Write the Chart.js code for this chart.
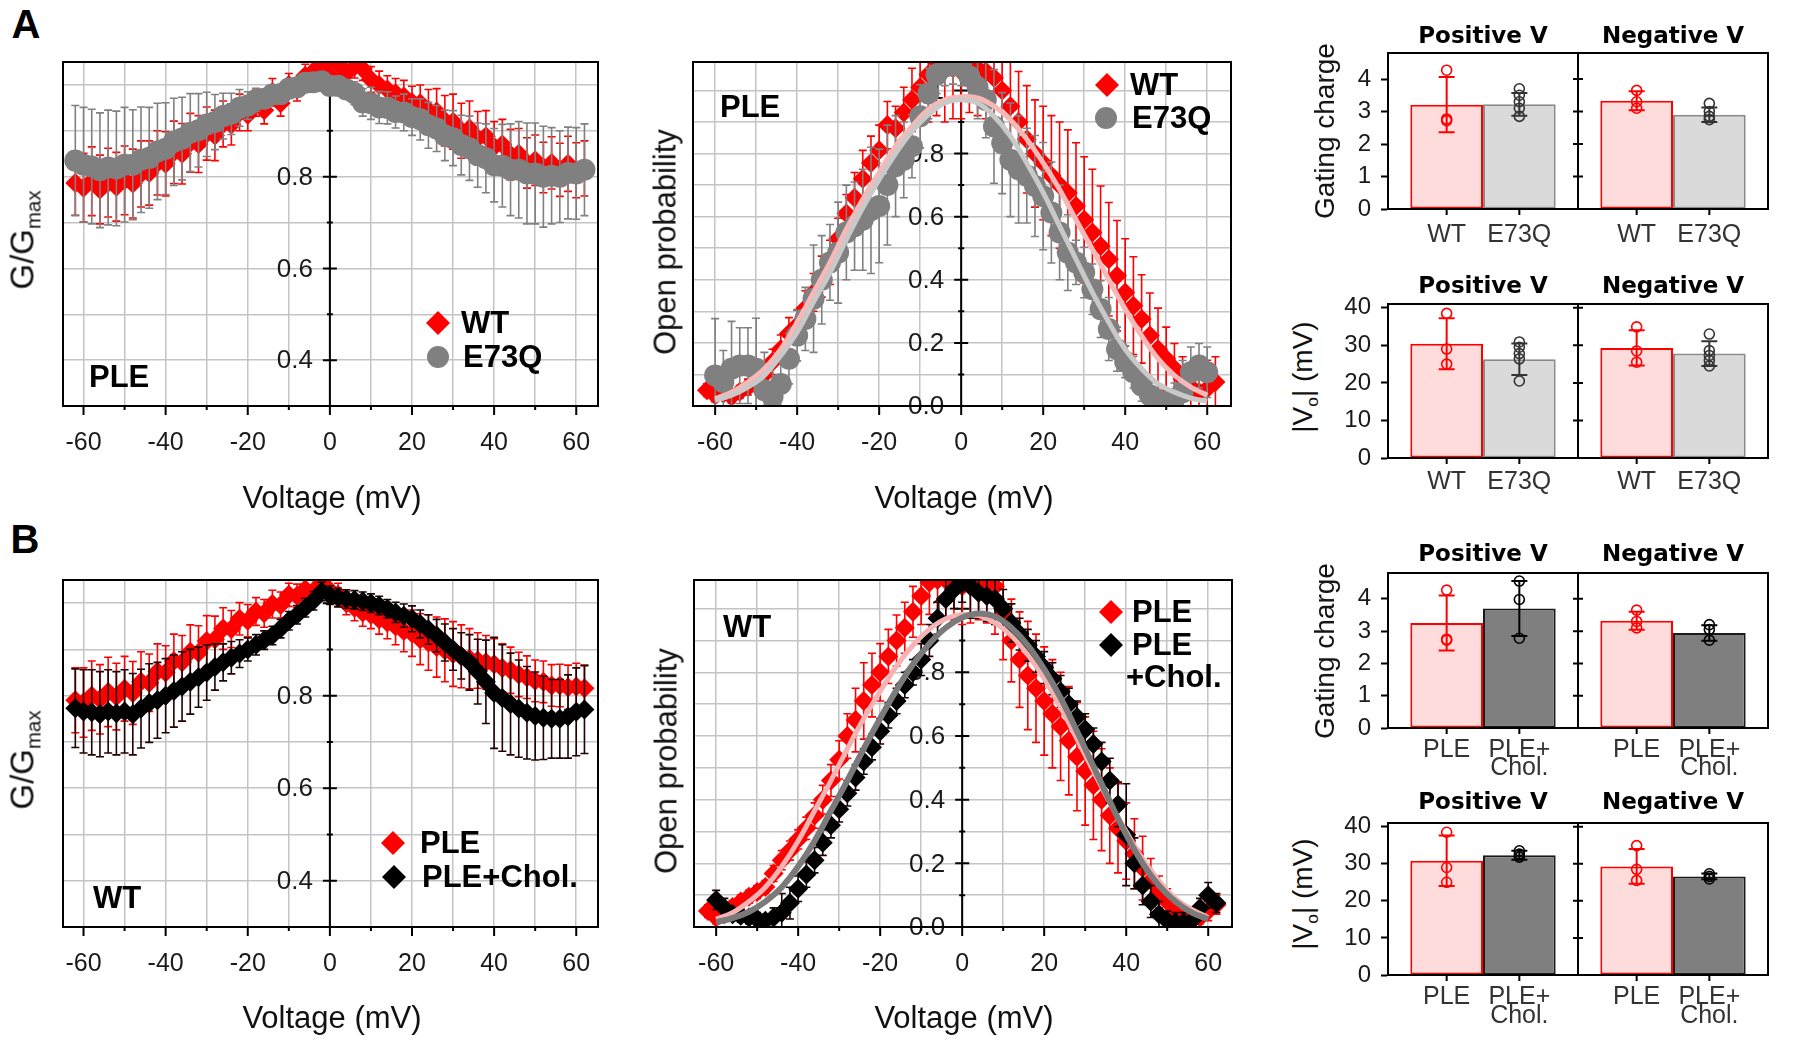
<!DOCTYPE html>
<html>
<head>
<meta charset="utf-8">
<title>Gating of WT and E73Q</title>
<script src="https://cdn.jsdelivr.net/npm/chart.js@4.4.1/dist/chart.umd.min.js"></script>
<style>
  body { margin: 0; background: #fff; }
  #fig { position: relative; width: 1810px; height: 1038px; overflow: hidden; font-family: Arial, "Liberation Sans", sans-serif; color: #111; }
  #fig canvas { position: absolute; }
  .lbl { position: absolute; transform: translate(-50%, -50%); line-height: 1; white-space: nowrap; }
  .rot { transform: translate(-50%, -50%) rotate(-90deg); }
  .sub { font-size: 0.62em; position: relative; top: 0.34em; }
  .panel { font-weight: bold; font-size: 40px; color: #000; }
  .ax { font-size: 31px; }
  .gm { font-size: 33px; }
  .ax2 { font-size: 28px; }
</style>
</head>
<body>
<div id="fig">
  <div class="lbl panel" style="left:26px;top:24px">A</div>
  <div class="lbl panel" style="left:25px;top:539px">B</div>

  <canvas id="a1" width="640" height="440" style="left:0;top:40px"></canvas>
  <canvas id="a2" width="620" height="440" style="left:650px;top:40px"></canvas>
  <canvas id="a3" width="480" height="245" style="left:1330px;top:10px"></canvas>
  <canvas id="a4" width="480" height="245" style="left:1330px;top:262px"></canvas>
  <canvas id="b1" width="640" height="443" style="left:0;top:558px"></canvas>
  <canvas id="b2" width="620" height="443" style="left:650px;top:558px"></canvas>
  <canvas id="b3" width="480" height="250" style="left:1330px;top:530px"></canvas>
  <canvas id="b4" width="480" height="258" style="left:1330px;top:780px"></canvas>

  <div class="lbl gm rot" style="left:22px;top:240px">G/G<span class="sub">max</span></div>
  <div class="lbl gm rot" style="left:22px;top:760px">G/G<span class="sub">max</span></div>
  <div class="lbl ax rot" style="left:665px;top:242px">Open probability</div>
  <div class="lbl ax rot" style="left:666px;top:761px">Open probability</div>
  <div class="lbl ax" style="left:332px;top:497px">Voltage (mV)</div>
  <div class="lbl ax" style="left:964px;top:497px">Voltage (mV)</div>
  <div class="lbl ax" style="left:332px;top:1017px">Voltage (mV)</div>
  <div class="lbl ax" style="left:964px;top:1017px">Voltage (mV)</div>
  <div class="lbl ax2 rot" style="left:1325px;top:131px">Gating charge</div>
  <div class="lbl ax2 rot" style="left:1325px;top:651px">Gating charge</div>
  <div class="lbl ax2 rot" style="left:1303px;top:377px">|V<span class="sub">o</span>| (mV)</div>
  <div class="lbl ax2 rot" style="left:1303px;top:894px">|V<span class="sub">o</span>| (mV)</div>
</div>

<script>
// ---- voltage grid (mV) ----
const voltage = [-62, -60, -58, -56, -54, -52, -50, -48, -46, -44, -42, -40, -38, -36, -34, -32, -30, -28, -26, -24,
  -22, -20, -18, -16, -14, -12, -10, -8, -6, -4, -2, 0, 2, 4, 6, 8, 10, 12, 14, 16, 18, 20, 22, 24, 26, 28, 30,
  32, 34, 36, 38, 40, 42, 44, 46, 48, 50, 52, 54, 56, 58, 60, 62];
const fitVoltage = [-60, -56, -52, -48, -44, -40, -36, -32, -28, -24, -20, -16, -12, -8, -4, 0, 4, 8, 12, 16, 20,
  24, 28, 32, 36, 40, 44, 48, 52, 56, 60];

// tick values
const voltageTicks = [-60, -50, -40, -30, -20, -10, 0, 10, 20, 30, 40, 50, 60];
const gGridTicks = [0.3, 0.4, 0.5, 0.6, 0.7, 0.8, 0.9, 1.0];
const gLabelTicks = [0.4, 0.6, 0.8, 1];
const poGridTicks = [0, 0.1, 0.2, 0.3, 0.4, 0.5, 0.6, 0.7, 0.8, 0.9, 1.0];
const poLabelTicks = [0, 0.2, 0.4, 0.6, 0.8, 1];
const chargeTicks = [0, 1, 2, 3, 4];
const vhalfTicks = [0, 10, 20, 30, 40];

// ---- A: G/Gmax, PLE ----
const gWT = [0.786, 0.776, 0.79, 0.772, 0.787, 0.778, 0.792, 0.785, 0.806, 0.808,
  0.83, 0.828, 0.853, 0.85, 0.874, 0.871, 0.894, 0.89, 0.915, 0.914,
  0.94, 0.935, 0.962, 0.945, 0.984, 0.96, 1.0, 0.99, 1.02, 1.03,
  1.042, 1.02, 1.045, 1.025, 1.04, 1.035, 1.012, 1.0, 0.99, 0.982,
  0.975, 0.962, 0.96, 0.945, 0.942, 0.922, 0.92, 0.9, 0.905, 0.884,
  0.888, 0.865, 0.87, 0.848, 0.85, 0.83, 0.836, 0.82, 0.83, 0.815,
  0.828, 0.814, 0.818];
const gWTErr = [0.07, 0.075, 0.075, 0.075, 0.075, 0.075, 0.075, 0.075, 0.072, 0.07,
  0.07, 0.07, 0.068, 0.066, 0.064, 0.062, 0.058, 0.055, 0.05, 0.045,
  0.04, 0.035, 0.03, 0.03, 0.03, 0.028, 0.025, 0.025, 0.025, 0.025,
  0.025, 0.025, 0.025, 0.025, 0.025, 0.025, 0.028, 0.03, 0.03, 0.032,
  0.035, 0.035, 0.04, 0.045, 0.05, 0.055, 0.06, 0.06, 0.06, 0.058,
  0.056, 0.055, 0.055, 0.055, 0.055, 0.055, 0.055, 0.055, 0.057, 0.058,
  0.06, 0.06, 0.06];
const gE73Q = [0.835, 0.826, 0.822, 0.814, 0.82, 0.818, 0.826, 0.826, 0.837, 0.841,
  0.855, 0.861, 0.876, 0.883, 0.896, 0.901, 0.914, 0.919, 0.932, 0.937,
  0.95, 0.955, 0.967, 0.97, 0.979, 0.98, 0.992, 0.995, 1.005, 1.006,
  1.008, 0.998, 0.998, 0.99, 0.982, 0.962, 0.96, 0.951, 0.95, 0.941,
  0.94, 0.93, 0.925, 0.912, 0.905, 0.89, 0.884, 0.869, 0.862, 0.847,
  0.84, 0.825, 0.824, 0.815, 0.815, 0.807, 0.807, 0.8, 0.802, 0.8,
  0.808, 0.807, 0.815];
const gE73QErr = [0.12, 0.125, 0.125, 0.125, 0.125, 0.125, 0.125, 0.12, 0.115, 0.11,
  0.105, 0.1, 0.095, 0.09, 0.085, 0.08, 0.07, 0.06, 0.05, 0.045,
  0.04, 0.03, 0.025, 0.02, 0.02, 0.02, 0.02, 0.02, 0.02, 0.02,
  0.02, 0.02, 0.02, 0.02, 0.025, 0.03, 0.035, 0.035, 0.035, 0.035,
  0.04, 0.04, 0.045, 0.05, 0.05, 0.055, 0.06, 0.065, 0.07, 0.07,
  0.075, 0.08, 0.09, 0.1, 0.105, 0.11, 0.11, 0.11, 0.105, 0.1,
  0.1, 0.1, 0.1];

// ---- A: open probability, PLE ----
const poWT = [0.05, 0.034, 0.04, 0.03, 0.045, 0.06, 0.075, 0.1, 0.14, 0.18,
  0.23, 0.255, 0.31, 0.36, 0.41, 0.455, 0.53, 0.61, 0.66, 0.72,
  0.77, 0.81, 0.89, 0.88, 0.93, 0.97, 1.01, 1.05, 1.09, 1.08,
  1.07, 1.06, 1.08, 1.07, 1.06, 1.04, 1.0, 0.95, 0.9, 0.845,
  0.8, 0.77, 0.73, 0.7, 0.675, 0.634, 0.59, 0.55, 0.507, 0.465,
  0.413, 0.36, 0.318, 0.276, 0.223, 0.18, 0.15, 0.118, 0.086, 0.06,
  0.044, 0.055, 0.076];
const poWTErr = [0.02, 0.02, 0.02, 0.02, 0.02, 0.025, 0.03, 0.035, 0.04, 0.045,
  0.05, 0.05, 0.055, 0.06, 0.065, 0.07, 0.065, 0.06, 0.08, 0.09,
  0.085, 0.08, 0.075, 0.07, 0.08, 0.1, 0.12, 0.15, 0.17, 0.18,
  0.16, 0.15, 0.15, 0.15, 0.15, 0.15, 0.15, 0.15, 0.16, 0.17,
  0.17, 0.18, 0.19, 0.2, 0.2, 0.2, 0.2, 0.2, 0.19, 0.18,
  0.175, 0.17, 0.155, 0.14, 0.135, 0.13, 0.1, 0.08, 0.07, 0.06,
  0.07, 0.09, 0.08];
const poE73Q = [null, 0.097, 0.076, 0.118, 0.128, 0.128, 0.118, 0.05, 0.03, 0.07,
  0.15, 0.223, 0.276, 0.34, 0.4, 0.455, 0.486, 0.55, 0.57, 0.59,
  0.62, 0.634, 0.7, 0.76, 0.78, 0.823, 0.918, 0.99, 1.05, 1.075,
  1.08, 1.075, 1.044, 1.01, 0.97, 0.886, 0.833, 0.78, 0.75, 0.73,
  0.697, 0.665, 0.613, 0.55, 0.486, 0.455, 0.423, 0.37, 0.307, 0.244,
  0.18, 0.14, 0.107, 0.065, 0.034, 0.018, 0.013, 0.023, 0.044, 0.107,
  0.128, 0.107, null];
const poE73QErr = [null, 0.18, 0.1, 0.15, 0.12, 0.12, 0.16, 0.12, 0.1, 0.08,
  0.08, 0.08, 0.1, 0.17, 0.14, 0.12, 0.16, 0.15, 0.14, 0.16,
  0.2, 0.18, 0.19, 0.16, 0.12, 0.1, 0.1, 0.08, 0.06, 0.06,
  0.06, 0.06, 0.08, 0.1, 0.12, 0.18, 0.16, 0.18, 0.17, 0.15,
  0.16, 0.17, 0.16, 0.15, 0.12, 0.07, 0.08, 0.08, 0.09, 0.1,
  0.07, 0.05, 0.05, 0.05, 0.04, 0.04, 0.04, 0.05, 0.1, 0.08,
  0.07, 0.08, null];
const fitWT = [0.023, 0.044, 0.076, 0.118, 0.18, 0.265, 0.36, 0.455, 0.56, 0.655, 0.74, 0.823, 0.886, 0.94,
  0.97, 0.98, 0.976, 0.95, 0.907, 0.845, 0.77, 0.686, 0.59, 0.497, 0.4, 0.307, 0.223, 0.15, 0.097, 0.06, 0.034];
const fitE73Q = [0.018, 0.034, 0.06, 0.097, 0.16, 0.234, 0.33, 0.423, 0.528, 0.628, 0.718, 0.8, 0.87, 0.923,
  0.96, 0.97, 0.96, 0.918, 0.855, 0.77, 0.676, 0.57, 0.465, 0.36, 0.265, 0.18, 0.118, 0.07, 0.044, 0.025, 0.015];

// ---- B: G/Gmax, WT ----
const gPLE = [0.79, 0.785, 0.8, 0.792, 0.808, 0.798, 0.815, 0.806, 0.83, 0.828,
  0.852, 0.85, 0.875, 0.872, 0.895, 0.893, 0.918, 0.922, 0.945, 0.944,
  0.966, 0.962, 0.982, 0.978, 0.998, 0.996, 1.018, 1.016, 1.03, 1.026,
  1.042, 1.028, 1.018, 1.0, 0.99, 0.98, 0.975, 0.965, 0.958, 0.95,
  0.94, 0.935, 0.922, 0.915, 0.905, 0.898, 0.89, 0.885, 0.88, 0.876,
  0.872, 0.868, 0.86, 0.855, 0.846, 0.84, 0.832, 0.83, 0.822, 0.822,
  0.818, 0.82, 0.816];
const gPLEErr = [0.07, 0.075, 0.075, 0.075, 0.075, 0.072, 0.07, 0.068, 0.065, 0.062,
  0.06, 0.058, 0.058, 0.058, 0.058, 0.058, 0.055, 0.05, 0.045, 0.04,
  0.035, 0.035, 0.03, 0.03, 0.03, 0.028, 0.025, 0.025, 0.025, 0.025,
  0.025, 0.025, 0.025, 0.025, 0.028, 0.03, 0.03, 0.032, 0.035, 0.04,
  0.045, 0.05, 0.055, 0.06, 0.065, 0.068, 0.07, 0.068, 0.065, 0.06,
  0.058, 0.055, 0.052, 0.05, 0.048, 0.046, 0.045, 0.045, 0.045, 0.046,
  0.048, 0.05, 0.05];
const gChol = [0.773, 0.766, 0.764, 0.76, 0.766, 0.762, 0.766, 0.76, 0.772, 0.784,
  0.79, 0.8, 0.81, 0.82, 0.83, 0.84, 0.85, 0.862, 0.872, 0.882,
  0.891, 0.9, 0.91, 0.92, 0.93, 0.945, 0.962, 0.975, 0.99, 1.005,
  1.025, 1.017, 1.012, 1.009, 1.007, 1.004, 1.0, 0.995, 0.988, 0.98,
  0.973, 0.966, 0.955, 0.943, 0.93, 0.915, 0.9, 0.886, 0.872, 0.852,
  0.83, 0.806, 0.795, 0.782, 0.772, 0.763, 0.756, 0.752, 0.75, 0.75,
  0.755, 0.765, 0.77];
const gCholErr = [0.085, 0.09, 0.092, 0.092, 0.09, 0.09, 0.09, 0.088, 0.085, 0.085,
  0.082, 0.08, 0.078, 0.075, 0.07, 0.065, 0.06, 0.05, 0.04, 0.035,
  0.03, 0.025, 0.022, 0.02, 0.02, 0.02, 0.02, 0.02, 0.02, 0.02,
  0.02, 0.02, 0.02, 0.02, 0.02, 0.02, 0.02, 0.02, 0.02, 0.022,
  0.025, 0.028, 0.03, 0.032, 0.035, 0.04, 0.045, 0.05, 0.06, 0.07,
  0.09, 0.12, 0.115, 0.11, 0.105, 0.1, 0.095, 0.09, 0.085, 0.085,
  0.09, 0.095, 0.095];

// ---- B: open probability, WT ----
const poPLE = [0.05, 0.03, 0.04, 0.063, 0.08, 0.095, 0.11, 0.126, 0.168, 0.21,
  0.24, 0.275, 0.31, 0.35, 0.4, 0.46, 0.525, 0.6, 0.65, 0.71,
  0.76, 0.8, 0.85, 0.9, 0.94, 0.99, 1.04, 1.082, 1.09, 1.09,
  1.085, 1.07, 1.075, 1.085, 1.085, 1.07, 0.98, 0.9, 0.84, 0.79,
  0.75, 0.71, 0.67, 0.63, 0.585, 0.535, 0.49, 0.445, 0.4, 0.35,
  0.31, 0.27, 0.23, 0.185, 0.145, 0.11, 0.08, 0.05, 0.03, 0.025,
  0.03, 0.05, 0.07];
const poPLEErr = [0.02, 0.02, 0.02, 0.02, 0.02, 0.02, 0.02, 0.02, 0.025, 0.03,
  0.03, 0.03, 0.035, 0.04, 0.045, 0.05, 0.06, 0.07, 0.1, 0.12,
  0.1, 0.09, 0.085, 0.08, 0.08, 0.08, 0.09, 0.1, 0.11, 0.12,
  0.12, 0.12, 0.12, 0.12, 0.13, 0.15, 0.14, 0.13, 0.15, 0.17,
  0.17, 0.17, 0.17, 0.17, 0.17, 0.17, 0.17, 0.17, 0.16, 0.15,
  0.14, 0.12, 0.11, 0.1, 0.07, 0.05, 0.04, 0.03, 0.02, 0.02,
  0.02, 0.03, 0.03];
const poChol = [null, 0.085, 0.06, 0.04, 0.035, 0.03, 0.025, 0.02, 0.03, 0.045,
  0.075, 0.12, 0.165, 0.21, 0.265, 0.32, 0.37, 0.42, 0.47, 0.52,
  0.565, 0.615, 0.665, 0.71, 0.76, 0.8, 0.84, 0.9, 0.97, 1.03,
  1.06, 1.08, 1.07, 1.05, 1.04, 1.03, 1.0, 0.955, 0.92, 0.885,
  0.85, 0.815, 0.78, 0.74, 0.7, 0.66, 0.62, 0.575, 0.52, 0.46,
  0.385, 0.29, 0.2, 0.13, 0.08, 0.04, 0.02, 0.015, 0.015, 0.02,
  0.06, 0.1, 0.075];
const poCholErr = [null, 0.03, 0.03, 0.02, 0.02, 0.02, 0.02, 0.02, 0.03, 0.06,
  0.05, 0.04, 0.04, 0.04, 0.04, 0.04, 0.04, 0.04, 0.04, 0.04,
  0.04, 0.04, 0.04, 0.04, 0.04, 0.04, 0.05, 0.05, 0.05, 0.06,
  0.06, 0.06, 0.1, 0.08, 0.08, 0.08, 0.06, 0.06, 0.05, 0.05,
  0.05, 0.05, 0.05, 0.05, 0.05, 0.05, 0.05, 0.05, 0.06, 0.07,
  0.07, 0.16, 0.08, 0.06, 0.05, 0.04, 0.03, 0.03, 0.03, 0.03,
  0.03, 0.04, 0.03];
const fitPLE = [0.025, 0.045, 0.08, 0.125, 0.19, 0.27, 0.365, 0.46, 0.56, 0.655, 0.74, 0.82, 0.885, 0.935,
  0.968, 0.982, 0.978, 0.955, 0.915, 0.855, 0.78, 0.69, 0.59, 0.49, 0.39, 0.3, 0.215, 0.145, 0.09, 0.055, 0.03];
const fitChol = [0.015, 0.028, 0.048, 0.08, 0.125, 0.19, 0.27, 0.365, 0.46, 0.56, 0.655, 0.745, 0.825, 0.89,
  0.94, 0.972, 0.985, 0.975, 0.94, 0.885, 0.81, 0.72, 0.615, 0.505, 0.395, 0.29, 0.2, 0.13, 0.08, 0.045, 0.025];

// ---- bar summaries: [Positive V, Negative V] ----
const groups = ['Positive V', 'Negative V'];
const chargeWT = [3.21, 3.33], chargeWTSd = [0.85, 0.29];
const chargeWTPts = [[4.27, 2.77, 2.72], [3.65, 3.3, 3.1]];
const chargeE73Q = [3.22, 2.9], chargeE73QSd = [0.35, 0.22];
const chargeE73QPts = [[3.7, 3.5, 3.3, 3.1, 2.85], [3.25, 3.0, 2.85, 2.75]];
const vhalfWT = [30.4, 29.3], vhalfWTSd = [6.8, 4.7];
const vhalfWTPts = [[38.5, 29.0, 25.0], [34.9, 28.5, 25.5]];
const vhalfE73Q = [26.3, 27.8], vhalfE73QSd = [4.2, 3.3];
const vhalfE73QPts = [[30.9, 29.5, 27.8, 26.4, 20.5], [33.0, 28.6, 27.3, 26.0, 24.5]];
const chargePLE = [3.25, 3.32], chargePLESd = [0.85, 0.28];
const chargePLEPts = [[4.27, 2.75, 2.72], [3.65, 3.3, 3.1]];
const chargeChol = [3.7, 2.94], chargeCholSd = [0.85, 0.24];
const chargeCholPts = [[4.55, 3.98, 2.78], [3.2, 3.05, 2.72]];
const vhalfPLE = [30.8, 29.3], vhalfPLESd = [6.8, 4.7];
const vhalfPLEPts = [[38.5, 29.0, 25.0], [34.9, 28.5, 25.5]];
const vhalfChol = [32.3, 26.6], vhalfCholSd = [1.2, 0.8];
const vhalfCholPts = [[33.5, 32.6, 31.8], [27.3, 26.6, 25.9]];

// ---- drawing ----
const FONT = 'Arial, "Liberation Sans", sans-serif';
const GRID = '#c4c4c4';

function xyPoints(xs, ys) {
  return xs.map((x, i) => ({ x: x, y: ys[i] }));
}

function markers(ys, err, style, color, errColor, radius, order) {
  return {
    data: xyPoints(voltage, ys), errorBars: err, errorColor: errColor,
    pointStyle: style, pointRadius: radius, pointHoverRadius: radius,
    backgroundColor: color, borderColor: color, borderWidth: 0, order: order, clip: 0
  };
}

function fitLine(ys, color, width, order) {
  return {
    data: xyPoints(fitVoltage, ys), showLine: true, tension: 0.4, pointRadius: 0,
    borderColor: color, borderWidth: width, order: order, clip: 0
  };
}

// vertical error bars, drawn just under their own markers
const errorBars = {
  id: 'errorBars',
  beforeDatasetDraw(chart, args) {
    const ds = chart.data.datasets[args.index];
    if (!ds.errorBars) return;
    const { ctx, chartArea: a, scales: { x, y } } = chart;
    ctx.save();
    ctx.beginPath();
    ctx.rect(a.left, a.top, a.right - a.left, a.bottom - a.top);
    ctx.clip();
    ctx.strokeStyle = ds.errorColor;
    ctx.lineWidth = 1.6;
    ctx.beginPath();
    ds.data.forEach((p, i) => {
      const e = ds.errorBars[i];
      if (p.y == null || e == null) return;
      const px = x.getPixelForValue(p.x);
      const top = y.getPixelForValue(p.y + e);
      const bot = y.getPixelForValue(p.y - e);
      ctx.moveTo(px, top); ctx.lineTo(px, bot);
      ctx.moveTo(px - 4, top); ctx.lineTo(px + 4, top);
      ctx.moveTo(px - 4, bot); ctx.lineTo(px + 4, bot);
    });
    ctx.stroke();
    ctx.restore();
  }
};

// y axis crossing at 0 mV, frame and bottom tick marks
function centerAxis(labels) {
  return {
    id: 'centerAxis',
    beforeDatasetsDraw(chart) {
      const { ctx, chartArea: a, scales: { x, y } } = chart;
      const x0 = x.getPixelForValue(0);
      ctx.save();
      ctx.strokeStyle = '#000';
      ctx.lineWidth = 2;
      ctx.beginPath();
      ctx.moveTo(x0, a.top);
      ctx.lineTo(x0, a.bottom);
      y.ticks.forEach(t => {
        const py = y.getPixelForValue(t.value);
        const len = labels.indexOf(t.value) >= 0 ? 7 : 3;
        ctx.moveTo(x0 - len, py);
        ctx.lineTo(x0 + len, py);
      });
      ctx.stroke();
      ctx.fillStyle = '#1a1a1a';
      ctx.font = '26px ' + FONT;
      ctx.textAlign = 'right';
      ctx.textBaseline = 'middle';
      labels.forEach(v => ctx.fillText(v === 1 ? '1' : v.toFixed(1), x0 - 17, y.getPixelForValue(v) + 1));
      ctx.restore();
    },
    afterDatasetsDraw(chart) {
      const { ctx, chartArea: a, scales: { x } } = chart;
      ctx.save();
      ctx.strokeStyle = '#000';
      ctx.lineWidth = 2;
      ctx.strokeRect(a.left, a.top, a.right - a.left, a.bottom - a.top);
      ctx.beginPath();
      x.ticks.forEach(t => {
        const px = x.getPixelForValue(t.value);
        ctx.moveTo(px, a.bottom);
        ctx.lineTo(px, a.bottom + (t.value % 20 === 0 ? 9 : 4));
      });
      ctx.stroke();
      ctx.restore();
    }
  };
}

function drawMarker(ctx, style, color, x, y, r) {
  ctx.fillStyle = color;
  ctx.beginPath();
  if (style === 'circle') {
    ctx.arc(x, y, r, 0, Math.PI * 2);
  } else {
    ctx.moveTo(x - r, y); ctx.lineTo(x, y - r); ctx.lineTo(x + r, y); ctx.lineTo(x, y + r);
    ctx.closePath();
  }
  ctx.fill();
}

// in-plot legend and condition label
function notes(items) {
  return {
    id: 'notes',
    afterDatasetsDraw(chart) {
      const ctx = chart.ctx;
      ctx.save();
      ctx.textBaseline = 'middle';
      ctx.textAlign = 'left';
      items.forEach(it => {
        if (it.marker) drawMarker(ctx, it.marker, it.color, it.mx, it.y, it.r);
        ctx.fillStyle = '#000';
        ctx.font = 'bold 31px ' + FONT;
        ctx.fillText(it.text, it.x, it.y + 1);
      });
      ctx.restore();
    }
  };
}

function xyChart(id, opt) {
  return new Chart(document.getElementById(id), {
    type: 'scatter',
    data: { datasets: opt.datasets },
    options: {
      responsive: false, animation: false, events: [],
      layout: { padding: opt.padding },
      plugins: { legend: { display: false }, tooltip: { enabled: false } },
      scales: {
        x: {
          type: 'linear', min: opt.xMin, max: opt.xMax,
          afterBuildTicks: s => { s.ticks = voltageTicks.map(v => ({ value: v })); },
          afterFit: s => { s.height = 74; },
          grid: { color: GRID, lineWidth: 1.5, drawTicks: false },
          border: { display: false },
          ticks: {
            autoSkip: false, maxRotation: 0, padding: 22, color: '#1a1a1a',
            font: { family: FONT, size: 25 },
            callback: v => (v % 20 === 0 ? String(v) : '')
          }
        },
        y: {
          type: 'linear', min: opt.yMin, max: opt.yMax,
          afterBuildTicks: s => { s.ticks = opt.yGrid.map(v => ({ value: v })); },
          afterFit: s => { s.width = 0; },
          grid: { color: GRID, lineWidth: 1.5, drawTicks: false },
          border: { display: false },
          ticks: { display: false }
        }
      }
    },
    plugins: [errorBars, centerAxis(opt.yLabels), notes(opt.notes)]
  });
}

// bar pairs: errors, dots, frame, divider, group titles and bar labels
function barDecor(opt) {
  return {
    id: 'barDecor',
    afterDatasetsDraw(chart) {
      const { ctx, chartArea: a, scales: { x, y } } = chart;
      ctx.save();
      chart.data.datasets.forEach((ds, di) => {
        chart.getDatasetMeta(di).data.forEach((bar, i) => {
          const cx = bar.x, m = ds.data[i], e = ds.errors[i];
          const t = y.getPixelForValue(m + e), b = y.getPixelForValue(m - e);
          ctx.strokeStyle = ds.markColor;
          ctx.lineWidth = 2;
          ctx.beginPath();
          ctx.moveTo(cx, t); ctx.lineTo(cx, b);
          ctx.moveTo(cx - 8, t); ctx.lineTo(cx + 8, t);
          ctx.moveTo(cx - 8, b); ctx.lineTo(cx + 8, b);
          ctx.stroke();
          ctx.lineWidth = 1.6;
          ds.points[i].forEach(v => {
            ctx.beginPath();
            ctx.arc(cx, y.getPixelForValue(v), 5, 0, Math.PI * 2);
            ctx.stroke();
          });
        });
      });
      ctx.strokeStyle = '#000';
      ctx.lineWidth = 2;
      ctx.strokeRect(a.left, a.top, a.right - a.left, a.bottom - a.top);
      const xd = (x.getPixelForValue(0) + x.getPixelForValue(1)) / 2;
      ctx.beginPath();
      ctx.moveTo(xd, a.top);
      ctx.lineTo(xd, a.bottom);
      y.ticks.forEach(t => {
        if (t.value <= 0) return;
        const py = y.getPixelForValue(t.value);
        ctx.moveTo(xd - 5, py);
        ctx.lineTo(xd + 5, py);
      });
      chart.data.datasets.forEach((ds, di) => chart.getDatasetMeta(di).data.forEach(bar => {
        ctx.moveTo(bar.x, a.bottom);
        ctx.lineTo(bar.x, a.bottom + 6);
      }));
      ctx.stroke();
      ctx.textAlign = 'center';
      ctx.textBaseline = 'middle';
      ctx.fillStyle = '#000';
      ctx.font = 'bold 23px "DejaVu Sans", Verdana, sans-serif';
      groups.forEach((g, i) => ctx.fillText(g, x.getPixelForValue(i), opt.titleY));
      ctx.fillStyle = '#333';
      ctx.font = '25px ' + FONT;
      chart.data.datasets.forEach((ds, di) => chart.getDatasetMeta(di).data.forEach(bar => {
        ds.label.split('\n').forEach((line, k) => ctx.fillText(line, bar.x, opt.labelY + k * opt.lineGap));
      }));
      ctx.restore();
    }
  };
}

function barSet(label, values, sd, pts, fill, edge, mark) {
  return {
    label: label, data: values, errors: sd, points: pts,
    backgroundColor: fill, borderColor: edge, borderWidth: 2, borderSkipped: false,
    categoryPercentage: 0.765, barPercentage: 1, markColor: mark
  };
}

function barChart(id, opt) {
  return new Chart(document.getElementById(id), {
    type: 'bar',
    data: { labels: groups, datasets: opt.datasets },
    options: {
      responsive: false, animation: false, events: [],
      layout: { padding: opt.padding },
      plugins: { legend: { display: false }, tooltip: { enabled: false } },
      scales: {
        x: { display: false },
        y: {
          min: 0, max: opt.yMax,
          afterBuildTicks: s => { s.ticks = opt.ticks.map(v => ({ value: v })); },
          afterFit: s => { s.width = 58; },
          grid: { drawOnChartArea: false, drawTicks: true, tickLength: 7, tickColor: '#000', tickWidth: 2 },
          border: { color: '#000', width: 2 },
          ticks: { padding: 10, color: '#1a1a1a', font: { family: FONT, size: 24 } }
        }
      }
    },
    plugins: [barDecor(opt)]
  });
}

const RED = '#ff0000', GRAY = '#808080', BLACK = '#000000';

xyChart('a1', {
  padding: { left: 63, right: 42, top: 22, bottom: 0 },
  xMin: -65, xMax: 65.3, yMin: 0.3, yMax: 1.05, yGrid: gGridTicks, yLabels: gLabelTicks,
  datasets: [
    markers(gWT, gWTErr, 'rectRot', RED, RED, 10, 2),
    markers(gE73Q, gE73QErr, 'circle', GRAY, GRAY, 11, 1)
  ],
  notes: [
    { text: 'PLE', x: 89, y: 337 },
    { text: 'WT', x: 461, y: 283, marker: 'rectRot', color: RED, mx: 438, r: 12 },
    { text: 'E73Q', x: 463, y: 317, marker: 'circle', color: GRAY, mx: 438, r: 11 }
  ]
});

xyChart('a2', {
  padding: { left: 43, right: 39, top: 22, bottom: 0 },
  xMin: -65.4, xMax: 65.8, yMin: 0, yMax: 1.09, yGrid: poGridTicks, yLabels: poLabelTicks,
  datasets: [
    markers(poWT, poWTErr, 'rectRot', RED, RED, 10, 4),
    markers(poE73Q, poE73QErr, 'circle', GRAY, GRAY, 11, 3),
    fitLine(fitWT, '#f7b8b8', 5, 2),
    fitLine(fitE73Q, '#c9c9c9', 5, 1)
  ],
  notes: [
    { text: 'PLE', x: 70, y: 67 },
    { text: 'WT', x: 480, y: 45, marker: 'rectRot', color: RED, mx: 457, r: 12 },
    { text: 'E73Q', x: 482, y: 78, marker: 'circle', color: GRAY, mx: 456, r: 11 }
  ]
});

xyChart('b1', {
  padding: { left: 63, right: 42, top: 22, bottom: 0 },
  xMin: -65, xMax: 65.3, yMin: 0.3, yMax: 1.05, yGrid: gGridTicks, yLabels: gLabelTicks,
  datasets: [
    markers(gPLE, gPLEErr, 'rectRot', RED, RED, 10, 2),
    markers(gChol, gCholErr, 'rectRot', BLACK, '#200000', 10, 1)
  ],
  notes: [
    { text: 'WT', x: 93, y: 340 },
    { text: 'PLE', x: 420, y: 285, marker: 'rectRot', color: RED, mx: 393, r: 12 },
    { text: 'PLE+Chol.', x: 422, y: 319, marker: 'rectRot', color: BLACK, mx: 394, r: 12 }
  ]
});

xyChart('b2', {
  padding: { left: 44, right: 38, top: 22, bottom: 0 },
  xMin: -65.4, xMax: 65.8, yMin: 0, yMax: 1.09, yGrid: poGridTicks, yLabels: poLabelTicks,
  datasets: [
    markers(poPLE, poPLEErr, 'rectRot', RED, RED, 10, 4),
    markers(poChol, poCholErr, 'rectRot', BLACK, '#200000', 10, 3),
    fitLine(fitPLE, '#f5b3b3', 5, 2),
    fitLine(fitChol, '#7a7a7a', 6, 1)
  ],
  notes: [
    { text: 'WT', x: 73, y: 69 },
    { text: 'PLE', x: 482, y: 54, marker: 'rectRot', color: RED, mx: 461, r: 12 },
    { text: 'PLE', x: 482, y: 87, marker: 'rectRot', color: BLACK, mx: 461, r: 12 },
    { text: '+Chol.', x: 476, y: 119 }
  ]
});

barChart('a3', {
  padding: { left: 0, right: 42, top: 43, bottom: 46 }, yMax: 4.8, ticks: chargeTicks,
  titleY: 27, labelY: 225, lineGap: 18,
  datasets: [
    barSet('WT', chargeWT, chargeWTSd, chargeWTPts, '#ffdcdc', RED, RED),
    barSet('E73Q', chargeE73Q, chargeE73QSd, chargeE73QPts, '#dadada', '#8a8a8a', '#333')
  ]
});

barChart('a4', {
  padding: { left: 0, right: 42, top: 42, bottom: 49 }, yMax: 41, ticks: vhalfTicks,
  titleY: 25, labelY: 220, lineGap: 18,
  datasets: [
    barSet('WT', vhalfWT, vhalfWTSd, vhalfWTPts, '#ffdcdc', RED, RED),
    barSet('E73Q', vhalfE73Q, vhalfE73QSd, vhalfE73QPts, '#dadada', '#8a8a8a', '#333')
  ]
});

barChart('b3', {
  padding: { left: 0, right: 42, top: 43, bottom: 52 }, yMax: 4.8, ticks: chargeTicks,
  titleY: 25, labelY: 220, lineGap: 18,
  datasets: [
    barSet('PLE', chargePLE, chargePLESd, chargePLEPts, '#ffdcdc', RED, RED),
    barSet('PLE+\nChol.', chargeChol, chargeCholSd, chargeCholPts, '#7f7f7f', '#1a1a1a', BLACK)
  ]
});

barChart('b4', {
  padding: { left: 0, right: 42, top: 43, bottom: 63 }, yMax: 41, ticks: vhalfTicks,
  titleY: 23, labelY: 217, lineGap: 19,
  datasets: [
    barSet('PLE', vhalfPLE, vhalfPLESd, vhalfPLEPts, '#ffdcdc', RED, RED),
    barSet('PLE+\nChol.', vhalfChol, vhalfCholSd, vhalfCholPts, '#7f7f7f', '#1a1a1a', BLACK)
  ]
});
</script>
</body>
</html>
